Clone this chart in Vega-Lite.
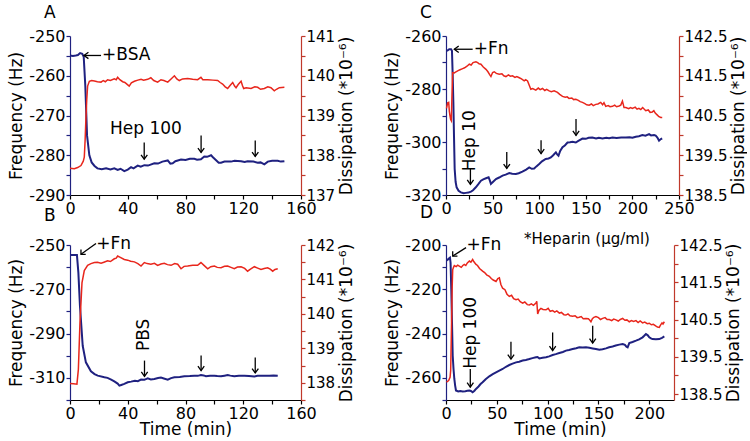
{
"$schema": "https://vega.github.io/schema/vega-lite/v6.json",
"padding": {"left": 7, "top": 4, "right": 0, "bottom": 0},
"columns": 2,
"spacing": {"row": 50, "column": 145},
"bounds": "flush",
"datasets": {
"Af": [{"t":0,"v":-254.9},{"t":2,"v":-255},{"t":4,"v":-254.9},{"t":5.5,"v":-254.8},{"t":7,"v":-254.3},{"t":8.5,"v":-254.5},{"t":9.5,"v":-255.2},{"t":10.6,"v":-262.5},{"t":11.8,"v":-275},{"t":13.4,"v":-280},{"t":15,"v":-281.8},{"t":17,"v":-282.7},{"t":19,"v":-283.3},{"t":22,"v":-283.5},{"t":25,"v":-283.3},{"t":28,"v":-283.6},{"t":30.7,"v":-283.3},{"t":33,"v":-283.7},{"t":35,"v":-283.4},{"t":37.6,"v":-284},{"t":40,"v":-283.6},{"t":42.3,"v":-283},{"t":44,"v":-283.3},{"t":46.9,"v":-282.6},{"t":49,"v":-282.9},{"t":51.5,"v":-282.5},{"t":54,"v":-282.6},{"t":58.4,"v":-282},{"t":61,"v":-282.1},{"t":64,"v":-281.6},{"t":67.7,"v":-281.3},{"t":69.5,"v":-282.1},{"t":71.1,"v":-282},{"t":73,"v":-281.5},{"t":76.9,"v":-281.1},{"t":80,"v":-281.2},{"t":83,"v":-280.9},{"t":86.1,"v":-280.9},{"t":88,"v":-281.1},{"t":90.7,"v":-281},{"t":93,"v":-280.3},{"t":95,"v":-280.4},{"t":97.7,"v":-280},{"t":99,"v":-280.5},{"t":101,"v":-281.2},{"t":103,"v":-281.9},{"t":104.6,"v":-281.9},{"t":107,"v":-281.6},{"t":111.5,"v":-281.6},{"t":114,"v":-281.4},{"t":118.5,"v":-281.5},{"t":121,"v":-281.7},{"t":123,"v":-281.5},{"t":127,"v":-281.6},{"t":130,"v":-281.9},{"t":132,"v":-281.8},{"t":134.6,"v":-282.3},{"t":137,"v":-281.6},{"t":140,"v":-281.4},{"t":143.9,"v":-281.4},{"t":146,"v":-281.6},{"t":148.5,"v":-281.5}],
"Ad": [{"t":0,"v":137.67},{"t":3,"v":137.66},{"t":5.3,"v":137.69},{"t":7.6,"v":137.74},{"t":9.2,"v":137.85},{"t":9.9,"v":137.95},{"t":10.5,"v":138.4},{"t":11,"v":138.9},{"t":11.6,"v":139.4},{"t":12.2,"v":139.74},{"t":13.4,"v":139.86},{"t":15,"v":139.88},{"t":16.9,"v":139.87},{"t":19,"v":139.85},{"t":21.5,"v":139.84},{"t":23,"v":139.88},{"t":24.5,"v":139.85},{"t":26,"v":139.9},{"t":28,"v":139.88},{"t":30.7,"v":139.92},{"t":32,"v":139.9},{"t":33,"v":139.96},{"t":34.5,"v":139.9},{"t":36.5,"v":139.85},{"t":38,"v":139.83},{"t":40,"v":139.77},{"t":41,"v":139.74},{"t":42.5,"v":139.82},{"t":44.6,"v":139.86},{"t":47,"v":139.89},{"t":49.2,"v":139.91},{"t":51,"v":139.89},{"t":53.8,"v":139.91},{"t":56,"v":139.95},{"t":58,"v":139.88},{"t":60.7,"v":139.84},{"t":63,"v":139.9},{"t":65,"v":139.88},{"t":67.7,"v":139.84},{"t":70,"v":139.92},{"t":72.3,"v":140.0},{"t":74,"v":139.92},{"t":75.7,"v":139.88},{"t":78,"v":139.92},{"t":81.5,"v":139.93},{"t":85,"v":139.91},{"t":88.4,"v":139.9},{"t":90.7,"v":139.96},{"t":92,"v":139.9},{"t":95.4,"v":139.9},{"t":99,"v":139.89},{"t":102.3,"v":139.88},{"t":104,"v":139.83},{"t":105.7,"v":139.79},{"t":107.5,"v":139.72},{"t":109.2,"v":139.68},{"t":111,"v":139.76},{"t":112.7,"v":139.83},{"t":114,"v":139.74},{"t":115,"v":139.7},{"t":116.5,"v":139.78},{"t":118.5,"v":139.86},{"t":119.5,"v":139.75},{"t":120.3,"v":139.68},{"t":122,"v":139.7},{"t":125.4,"v":139.68},{"t":128,"v":139.72},{"t":130,"v":139.71},{"t":132,"v":139.66},{"t":134.6,"v":139.68},{"t":137,"v":139.72},{"t":139.2,"v":139.7},{"t":141.5,"v":139.62},{"t":143,"v":139.66},{"t":145,"v":139.7},{"t":148.5,"v":139.71}],
"Bf": [{"t":0,"v":-254.5},{"t":2.5,"v":-254.5},{"t":4.8,"v":-254.5},{"t":5.8,"v":-262.5},{"t":6.9,"v":-277.5},{"t":8.8,"v":-295.5},{"t":11,"v":-303},{"t":14.5,"v":-307},{"t":17,"v":-308.3},{"t":19.2,"v":-309},{"t":23.8,"v":-309.7},{"t":26,"v":-310},{"t":28.5,"v":-310.8},{"t":30.7,"v":-311.6},{"t":33,"v":-312.6},{"t":34.2,"v":-313.5},{"t":35.5,"v":-313.2},{"t":37.6,"v":-312.7},{"t":40,"v":-312},{"t":42.3,"v":-311.7},{"t":45,"v":-311.3},{"t":47,"v":-311.5},{"t":49.2,"v":-310.8},{"t":51.5,"v":-310.9},{"t":53.8,"v":-310.2},{"t":56,"v":-310.7},{"t":58.4,"v":-310.5},{"t":61,"v":-310.1},{"t":63,"v":-309.9},{"t":65,"v":-310.3},{"t":67.7,"v":-310.8},{"t":70,"v":-310.1},{"t":72.3,"v":-309.7},{"t":76,"v":-309.6},{"t":79.2,"v":-309.3},{"t":83,"v":-309.2},{"t":86.1,"v":-309},{"t":88.5,"v":-309.1},{"t":90.7,"v":-308.7},{"t":92.5,"v":-308.9},{"t":94.2,"v":-309.3},{"t":97,"v":-309.1},{"t":100,"v":-309},{"t":102,"v":-309.2},{"t":104.6,"v":-309.3},{"t":107,"v":-309},{"t":109.2,"v":-308.7},{"t":111,"v":-309},{"t":113.8,"v":-309.3},{"t":117,"v":-309.1},{"t":120.8,"v":-309},{"t":124,"v":-309.2},{"t":127.7,"v":-309.4},{"t":130,"v":-309.1},{"t":134.6,"v":-309},{"t":138,"v":-309.1},{"t":141,"v":-308.9},{"t":143.9,"v":-309}],
"Bd": [{"t":0,"v":137.98},{"t":2.5,"v":137.97},{"t":4.8,"v":137.96},{"t":5.8,"v":138.39},{"t":6.9,"v":139.74},{"t":8.3,"v":140.9},{"t":9.9,"v":141.26},{"t":12.2,"v":141.41},{"t":14.5,"v":141.46},{"t":16.9,"v":141.49},{"t":19,"v":141.5},{"t":21.5,"v":141.47},{"t":23.5,"v":141.5},{"t":26,"v":141.54},{"t":28,"v":141.52},{"t":30.7,"v":141.6},{"t":32,"v":141.62},{"t":33,"v":141.68},{"t":34.5,"v":141.65},{"t":37.6,"v":141.58},{"t":40,"v":141.56},{"t":42,"v":141.53},{"t":44.6,"v":141.51},{"t":47,"v":141.46},{"t":49.2,"v":141.39},{"t":51.5,"v":141.49},{"t":53.5,"v":141.46},{"t":56,"v":141.44},{"t":58.5,"v":141.47},{"t":60.7,"v":141.41},{"t":63,"v":141.45},{"t":65.3,"v":141.47},{"t":67.5,"v":141.43},{"t":70,"v":141.41},{"t":72.5,"v":141.46},{"t":74.6,"v":141.44},{"t":76.9,"v":141.31},{"t":79,"v":141.38},{"t":81.5,"v":141.39},{"t":85,"v":141.41},{"t":88.4,"v":141.41},{"t":90.7,"v":141.49},{"t":93,"v":141.4},{"t":95.4,"v":141.31},{"t":97.5,"v":141.37},{"t":100,"v":141.39},{"t":102,"v":141.35},{"t":104.6,"v":141.34},{"t":107,"v":141.38},{"t":109.2,"v":141.39},{"t":111.5,"v":141.35},{"t":113.8,"v":141.31},{"t":116,"v":141.36},{"t":118.5,"v":141.37},{"t":121,"v":141.32},{"t":123,"v":141.24},{"t":125,"v":141.3},{"t":127.7,"v":141.37},{"t":130,"v":141.33},{"t":132.3,"v":141.29},{"t":134.5,"v":141.32},{"t":136.9,"v":141.34},{"t":138.7,"v":141.3},{"t":140.4,"v":141.24},{"t":142,"v":141.29},{"t":143.9,"v":141.31}],
"Cf": [{"t":0.5,"v":-265.6},{"t":1.8,"v":-265.4},{"t":3.5,"v":-265},{"t":5.4,"v":-265},{"t":6.4,"v":-265.6},{"t":7.2,"v":-275},{"t":7.9,"v":-285},{"t":8.6,"v":-298},{"t":9.3,"v":-310.2},{"t":10.3,"v":-315},{"t":11.4,"v":-317.1},{"t":13.5,"v":-318.4},{"t":16,"v":-319},{"t":19,"v":-319.3},{"t":21.4,"v":-319.2},{"t":24,"v":-319.1},{"t":26.8,"v":-318.7},{"t":29,"v":-318.2},{"t":32,"v":-317.1},{"t":34.5,"v":-316},{"t":37.5,"v":-314.6},{"t":40,"v":-314.1},{"t":42.9,"v":-313.7},{"t":45.7,"v":-313.3},{"t":47,"v":-314.5},{"t":48.2,"v":-315.8},{"t":50,"v":-315.2},{"t":53.6,"v":-314},{"t":57,"v":-313.4},{"t":60.7,"v":-312.7},{"t":64,"v":-312.3},{"t":67.9,"v":-311.7},{"t":71,"v":-312},{"t":75,"v":-312.1},{"t":78,"v":-311.8},{"t":82,"v":-311.2},{"t":86,"v":-310.4},{"t":89.3,"v":-309.6},{"t":92,"v":-310.1},{"t":94.6,"v":-310},{"t":97,"v":-309.2},{"t":100,"v":-308.3},{"t":103,"v":-307.3},{"t":107,"v":-306.4},{"t":110,"v":-306.2},{"t":112.5,"v":-305.8},{"t":115,"v":-305},{"t":117.9,"v":-303.9},{"t":119.5,"v":-304.8},{"t":120.7,"v":-305.2},{"t":122.5,"v":-303.4},{"t":125,"v":-302},{"t":127.5,"v":-301.3},{"t":130.4,"v":-300.2},{"t":133,"v":-300.1},{"t":135.7,"v":-299.9},{"t":139.3,"v":-300.2},{"t":142,"v":-299.6},{"t":146.4,"v":-298.7},{"t":150,"v":-298.8},{"t":153,"v":-298.4},{"t":157,"v":-298.3},{"t":161,"v":-298.7},{"t":164,"v":-298.4},{"t":167.9,"v":-298.7},{"t":172,"v":-298.4},{"t":175,"v":-298.6},{"t":178.6,"v":-298.3},{"t":183,"v":-298.5},{"t":188,"v":-298.3},{"t":192.9,"v":-298.3},{"t":197,"v":-298.2},{"t":200,"v":-298.4},{"t":203.6,"v":-298},{"t":207,"v":-297.8},{"t":210.7,"v":-297.4},{"t":214,"v":-297.6},{"t":217.9,"v":-297},{"t":220,"v":-297.5},{"t":223.2,"v":-297.4},{"t":225,"v":-297.6},{"t":226.8,"v":-298.3},{"t":228.6,"v":-299.5},{"t":230.5,"v":-298.9},{"t":232,"v":-298.7}],
"Cd": [{"t":0.5,"v":140.68},{"t":1.8,"v":140.82},{"t":2.9,"v":140.83},{"t":3.6,"v":140.6},{"t":4.3,"v":140.49},{"t":5,"v":140.4},{"t":5.7,"v":140.37},{"t":6.4,"v":141},{"t":7.1,"v":141.58},{"t":9,"v":141.57},{"t":10.7,"v":141.6},{"t":13,"v":141.63},{"t":15,"v":141.65},{"t":17.9,"v":141.68},{"t":20,"v":141.7},{"t":22.5,"v":141.74},{"t":25,"v":141.79},{"t":27,"v":141.77},{"t":29,"v":141.83},{"t":32.1,"v":141.85},{"t":34,"v":141.83},{"t":35.5,"v":141.8},{"t":37.5,"v":141.79},{"t":40,"v":141.72},{"t":42.9,"v":141.66},{"t":45,"v":141.6},{"t":47,"v":141.52},{"t":48.2,"v":141.48},{"t":50,"v":141.58},{"t":51.8,"v":141.6},{"t":54,"v":141.56},{"t":57.1,"v":141.54},{"t":60,"v":141.55},{"t":62,"v":141.5},{"t":64.3,"v":141.48},{"t":67,"v":141.52},{"t":69,"v":141.49},{"t":71.4,"v":141.5},{"t":74,"v":141.46},{"t":76,"v":141.48},{"t":78.6,"v":141.45},{"t":81,"v":141.42},{"t":83.9,"v":141.37},{"t":85.5,"v":141.4},{"t":87.5,"v":141.37},{"t":89,"v":141.28},{"t":91,"v":141.16},{"t":93,"v":141.18},{"t":96.4,"v":141.14},{"t":99,"v":141.19},{"t":101,"v":141.15},{"t":103.6,"v":141.18},{"t":106,"v":141.13},{"t":108,"v":141.16},{"t":110.7,"v":141.12},{"t":113,"v":141.1},{"t":116,"v":141.12},{"t":119.6,"v":141.08},{"t":122,"v":141.03},{"t":125,"v":140.98},{"t":128,"v":140.96},{"t":130,"v":140.97},{"t":132,"v":140.93},{"t":135,"v":140.94},{"t":137,"v":140.9},{"t":139.3,"v":140.91},{"t":142,"v":140.88},{"t":144,"v":140.85},{"t":146.4,"v":140.83},{"t":149,"v":140.8},{"t":151,"v":140.77},{"t":153.6,"v":140.76},{"t":156,"v":140.79},{"t":158,"v":140.75},{"t":160.7,"v":140.78},{"t":163,"v":140.79},{"t":166,"v":140.83},{"t":168,"v":140.77},{"t":169.5,"v":140.82},{"t":171.4,"v":140.73},{"t":174,"v":140.75},{"t":176,"v":140.72},{"t":178.6,"v":140.73},{"t":181,"v":140.76},{"t":183,"v":140.72},{"t":185.7,"v":140.74},{"t":187.5,"v":140.76},{"t":189.3,"v":140.86},{"t":190.2,"v":140.78},{"t":191,"v":140.7},{"t":193,"v":140.7},{"t":196,"v":140.67},{"t":198,"v":140.7},{"t":200,"v":140.68},{"t":203,"v":140.71},{"t":205,"v":140.66},{"t":207,"v":140.68},{"t":209,"v":140.65},{"t":211,"v":140.7},{"t":214.3,"v":140.62},{"t":217,"v":140.64},{"t":219,"v":140.58},{"t":221.4,"v":140.59},{"t":223,"v":140.62},{"t":224.5,"v":140.56},{"t":226.8,"v":140.51},{"t":228.5,"v":140.47},{"t":230.4,"v":140.45},{"t":232,"v":140.45}],
"Df": [{"t":0.5,"v":-207},{"t":2,"v":-206.5},{"t":2.6,"v":-206.2},{"t":3.9,"v":-205.7},{"t":4.5,"v":-208},{"t":5.2,"v":-220},{"t":5.9,"v":-235},{"t":6.6,"v":-250},{"t":7.4,"v":-256},{"t":8.2,"v":-260.5},{"t":9,"v":-263.5},{"t":9.8,"v":-265.7},{"t":12,"v":-266.1},{"t":14,"v":-265.9},{"t":16.4,"v":-266.2},{"t":19,"v":-266},{"t":21,"v":-265.8},{"t":23,"v":-265.7},{"t":24.5,"v":-265.9},{"t":26.2,"v":-266.5},{"t":28,"v":-265.8},{"t":29.5,"v":-265},{"t":32,"v":-263.9},{"t":34,"v":-262.8},{"t":36,"v":-262},{"t":39,"v":-260.6},{"t":42.6,"v":-259.3},{"t":46,"v":-258.3},{"t":49.2,"v":-257.5},{"t":52,"v":-256.8},{"t":55.7,"v":-256},{"t":59,"v":-255},{"t":62.3,"v":-254.2},{"t":65.5,"v":-253.6},{"t":68.9,"v":-253},{"t":72,"v":-252.7},{"t":75.4,"v":-252.2},{"t":78.5,"v":-251.9},{"t":82,"v":-251.5},{"t":85,"v":-251.1},{"t":88.5,"v":-250.7},{"t":90,"v":-250.6},{"t":91.8,"v":-251.2},{"t":95,"v":-250.9},{"t":98.4,"v":-250.7},{"t":101.5,"v":-250.3},{"t":104.9,"v":-249.7},{"t":108,"v":-249.3},{"t":111.5,"v":-248.8},{"t":115,"v":-248.3},{"t":118,"v":-247.7},{"t":121,"v":-247.4},{"t":124.6,"v":-247},{"t":128,"v":-246.6},{"t":131.1,"v":-246.2},{"t":134.5,"v":-246.3},{"t":137.7,"v":-246.2},{"t":141,"v":-246.4},{"t":144.3,"v":-246.7},{"t":147.5,"v":-247},{"t":150.8,"v":-247.3},{"t":154,"v":-247.1},{"t":157.4,"v":-246.7},{"t":160.5,"v":-246.2},{"t":163.9,"v":-245.8},{"t":167,"v":-245.4},{"t":170.5,"v":-245},{"t":173.8,"v":-244.7},{"t":176,"v":-245.1},{"t":177.5,"v":-245.9},{"t":178.7,"v":-246.2},{"t":180.3,"v":-244.3},{"t":183.5,"v":-243.8},{"t":186.9,"v":-243.2},{"t":190,"v":-242.6},{"t":193.4,"v":-241.7},{"t":195,"v":-241},{"t":196.7,"v":-240.2},{"t":198.5,"v":-240.8},{"t":200,"v":-241.7},{"t":202,"v":-242.3},{"t":203.3,"v":-242.5},{"t":206.5,"v":-242.6},{"t":209.8,"v":-242.5},{"t":212.5,"v":-241.9},{"t":214.8,"v":-241.3}],
"Dd": [{"t":0.5,"v":138.82},{"t":2.6,"v":138.86},{"t":4,"v":138.95},{"t":4.6,"v":139.13},{"t":5.4,"v":140.3},{"t":6.1,"v":141.4},{"t":6.6,"v":141.84},{"t":7.4,"v":141.9},{"t":8.2,"v":141.95},{"t":10,"v":141.92},{"t":11.5,"v":141.96},{"t":13.1,"v":141.93},{"t":15,"v":141.9},{"t":16.5,"v":141.95},{"t":18,"v":141.98},{"t":19.5,"v":141.95},{"t":21,"v":142.02},{"t":23,"v":142.07},{"t":24.5,"v":142.04},{"t":26.2,"v":142.11},{"t":27.5,"v":142.05},{"t":29.5,"v":141.98},{"t":31,"v":141.95},{"t":33,"v":141.87},{"t":36,"v":141.8},{"t":38,"v":141.76},{"t":40,"v":141.7},{"t":42.6,"v":141.66},{"t":44.5,"v":141.6},{"t":46.5,"v":141.56},{"t":49.2,"v":141.52},{"t":51,"v":141.6},{"t":52.5,"v":141.62},{"t":54,"v":141.44},{"t":55.7,"v":141.34},{"t":58,"v":141.3},{"t":60,"v":141.18},{"t":62.3,"v":141.12},{"t":64.5,"v":141.15},{"t":66.5,"v":141.06},{"t":68.9,"v":141.03},{"t":71,"v":141.05},{"t":73,"v":140.98},{"t":75.4,"v":140.94},{"t":77.5,"v":140.97},{"t":80,"v":140.9},{"t":82,"v":140.89},{"t":84,"v":140.92},{"t":86,"v":140.88},{"t":88.5,"v":140.94},{"t":89.3,"v":140.99},{"t":90.2,"v":140.65},{"t":91.5,"v":140.75},{"t":93.4,"v":140.8},{"t":95.5,"v":140.77},{"t":98.4,"v":140.76},{"t":100.5,"v":140.8},{"t":102.5,"v":140.72},{"t":104.9,"v":140.74},{"t":107,"v":140.7},{"t":109,"v":140.73},{"t":111.5,"v":140.67},{"t":113.5,"v":140.69},{"t":116,"v":140.63},{"t":118,"v":140.62},{"t":120,"v":140.65},{"t":122,"v":140.6},{"t":124.6,"v":140.59},{"t":127,"v":140.6},{"t":129,"v":140.55},{"t":131.1,"v":140.56},{"t":133,"v":140.58},{"t":135,"v":140.52},{"t":137.7,"v":140.53},{"t":140,"v":140.52},{"t":141.5,"v":140.48},{"t":142.6,"v":140.44},{"t":144,"v":140.52},{"t":145.5,"v":140.56},{"t":147.5,"v":140.58},{"t":150,"v":140.55},{"t":152,"v":140.5},{"t":154.1,"v":140.53},{"t":156.5,"v":140.55},{"t":158.5,"v":140.5},{"t":160.7,"v":140.5},{"t":163,"v":140.47},{"t":165,"v":140.51},{"t":167.2,"v":140.49},{"t":169.5,"v":140.46},{"t":171.5,"v":140.5},{"t":173.8,"v":140.53},{"t":176,"v":140.48},{"t":178,"v":140.49},{"t":180.3,"v":140.44},{"t":182.5,"v":140.47},{"t":184.5,"v":140.45},{"t":186.9,"v":140.47},{"t":189,"v":140.42},{"t":191,"v":140.46},{"t":193.4,"v":140.41},{"t":195.5,"v":140.43},{"t":198,"v":140.39},{"t":200,"v":140.4},{"t":202,"v":140.36},{"t":204,"v":140.37},{"t":206.6,"v":140.32},{"t":208,"v":140.3},{"t":209.8,"v":140.29},{"t":211,"v":140.35},{"t":212.5,"v":140.41},{"t":213.5,"v":140.38},{"t":214.8,"v":140.44}],
"Aarr": [{"t":21.5,"v":-254.9,"t2":9.7,"v2":-254.9,"dir":"left"},{"t":51.4,"v":-276.8,"t2":51.4,"v2":-281,"dir":"down"},{"t":90.8,"v":-275,"t2":90.8,"v2":-279.3,"dir":"down"},{"t":128.3,"v":-276.3,"t2":128.3,"v2":-280.3,"dir":"down"}],
"Atxt": [{"t":21.5,"v":-254.9,"label":"+BSA"},{"t":27,"v":-273.5,"label":"Hep 100"}],
"Barr": [{"t":18,"v":-249.3,"t2":7.6,"v2":-254.2,"dir":"diag"},{"t":51.6,"v":-302.2,"t2":51.6,"v2":-309.3,"dir":"down"},{"t":90.8,"v":-299.9,"t2":90.8,"v2":-306.7,"dir":"down"},{"t":128.3,"v":-300.8,"t2":128.3,"v2":-307.8,"dir":"down"}],
"Btxt": [{"t":17.5,"v":-249.5,"label":"+Fn"}],
"Brot": [{"t":51.6,"v":-290.6,"label":"PBS"}],
"Carr": [{"t":28.6,"v":-265,"t2":8.9,"v2":-265,"dir":"left"},{"t":26.2,"v":-310,"t2":26.2,"v2":-316,"dir":"down"},{"t":65.2,"v":-303.8,"t2":65.2,"v2":-310,"dir":"down"},{"t":102,"v":-299.3,"t2":102,"v2":-304.4,"dir":"down"},{"t":139.5,"v":-291.3,"t2":139.5,"v2":-297.5,"dir":"down"}],
"Ctxt": [{"t":28.6,"v":-265,"label":"+Fn"}],
"Crot": [{"t":26.2,"v":-299.5,"label":"Hep 10"}],
"Darr": [{"t":19.7,"v":-201.2,"t2":6.6,"v2":-205,"dir":"diag"},{"t":23.9,"v":-256,"t2":23.9,"v2":-264.2,"dir":"down"},{"t":63.9,"v":-243.7,"t2":63.9,"v2":-251.5,"dir":"down"},{"t":104.9,"v":-239.5,"t2":104.9,"v2":-247.7,"dir":"down"},{"t":144.3,"v":-236.5,"t2":144.3,"v2":-244.3,"dir":"down"}],
"Dtxt": [{"t":19.2,"v":-200.1,"label":"+Fn"}],
"Drot": [{"t":24.6,"v":-239.7,"label":"Hep 100"}],
"Dnote": [{"t":138.7,"v":-197.2,"label":"*Heparin (μg/ml)"}]
},
"concat": [
{
"width": 231, "height": 159,
"title": {"text": "A", "frame": "group", "dx": -26, "offset": 6},
"resolve": {"scale": {"x": "independent", "y": "independent"}},
"layer": [
{"data": {"name": "Af"}, "mark": {"type": "line", "color": "#1f2180", "strokeWidth": 2},
"encoding": {
"x": {"field": "t", "type": "quantitative", "scale": {"domain": [0, 160], "nice": false, "zero": false}, "axis": {"title": null, "values": [0,20,40,60,80,100,120,140,160], "labelExpr": "datum.value % 40 === 0 ? '' + datum.value : ''"}},
"y": {"field": "v", "type": "quantitative", "scale": {"domain": [-290, -250], "nice": false, "zero": false}, "axis": {"title": "Frequency (Hz)", "values": [-290,-285,-280,-275,-270,-265,-260,-255,-250], "labelExpr": "datum.value % 10 === 0 ? '' + datum.value : ''"}}}},
{"data": {"name": "Aarr"}, "mark": {"type": "rule", "color": "black", "strokeWidth": 1.3}, "encoding": {"x": {"field": "t", "type": "quantitative", "scale": {"domain": [0, 160], "nice": false, "zero": false}, "axis": null}, "x2": {"field": "t2"}, "y": {"field": "v", "type": "quantitative", "scale": {"domain": [-290, -250], "nice": false, "zero": false}, "axis": null}, "y2": {"field": "v2"}}},
{"data": {"name": "Aarr"}, "transform": [{"filter": "datum.dir === 'down'"}], "mark": {"type": "point", "shape": "M -1 -1.4 L 0 0 L 1 -1.4", "filled": false, "color": "black", "opacity": 1, "strokeWidth": 1.3, "size": 40}, "encoding": {"x": {"field": "t2", "type": "quantitative", "scale": {"domain": [0, 160], "nice": false, "zero": false}, "axis": null}, "y": {"field": "v2", "type": "quantitative", "scale": {"domain": [-290, -250], "nice": false, "zero": false}, "axis": null}}},
{"data": {"name": "Aarr"}, "transform": [{"filter": "datum.dir === 'left'"}], "mark": {"type": "point", "shape": "M 1.4 -1 L 0 0 L 1.4 1", "filled": false, "color": "black", "opacity": 1, "strokeWidth": 1.3, "size": 40}, "encoding": {"x": {"field": "t2", "type": "quantitative", "scale": {"domain": [0, 160], "nice": false, "zero": false}, "axis": null}, "y": {"field": "v2", "type": "quantitative", "scale": {"domain": [-290, -250], "nice": false, "zero": false}, "axis": null}}},
{"data": {"name": "Atxt"}, "mark": {"type": "text", "align": "left", "baseline": "middle", "dx": 1}, "encoding": {"x": {"field": "t", "type": "quantitative", "scale": {"domain": [0, 160], "nice": false, "zero": false}, "axis": null}, "y": {"field": "v", "type": "quantitative", "scale": {"domain": [-290, -250], "nice": false, "zero": false}, "axis": null}, "text": {"field": "label"}}},
{"data": {"name": "Ad"}, "mark": {"type": "line", "color": "#e8261c", "strokeWidth": 1.5},
"encoding": {"x": {"field": "t", "type": "quantitative", "scale": {"domain": [0, 160], "nice": false, "zero": false}, "axis": null},
"y": {"field": "v", "type": "quantitative", "scale": {"domain": [137, 141], "nice": false, "zero": false}, "axis": {"orient": "right", "title": "Dissipation (*10⁻⁶)", "values": [137,137.5,138,138.5,139,139.5,140,140.5,141], "labelExpr": "datum.value % 1 === 0 ? '' + datum.value : ''"}}}}
]
},
{
"width": 233, "height": 159,
"title": {"text": "C", "frame": "group", "dx": -26, "offset": 6},
"resolve": {"scale": {"x": "independent", "y": "independent"}},
"layer": [
{"data": {"name": "Cf"}, "mark": {"type": "line", "color": "#1f2180", "strokeWidth": 2},
"encoding": {
"x": {"field": "t", "type": "quantitative", "scale": {"domain": [0, 250], "nice": false, "zero": false}, "axis": {"title": null, "values": [0,25,50,75,100,125,150,175,200,225,250], "labelExpr": "datum.value % 50 === 0 ? '' + datum.value : ''"}},
"y": {"field": "v", "type": "quantitative", "scale": {"domain": [-320, -260], "nice": false, "zero": false}, "axis": {"title": "Frequency (Hz)", "values": [-320,-310,-300,-290,-280,-270,-260], "labelExpr": "(datum.value + 260) % 20 === 0 ? '' + datum.value : ''"}}}},
{"data": {"name": "Carr"}, "mark": {"type": "rule", "color": "black", "strokeWidth": 1.3}, "encoding": {"x": {"field": "t", "type": "quantitative", "scale": {"domain": [0, 250], "nice": false, "zero": false}, "axis": null}, "x2": {"field": "t2"}, "y": {"field": "v", "type": "quantitative", "scale": {"domain": [-320, -260], "nice": false, "zero": false}, "axis": null}, "y2": {"field": "v2"}}},
{"data": {"name": "Carr"}, "transform": [{"filter": "datum.dir === 'down'"}], "mark": {"type": "point", "shape": "M -1 -1.4 L 0 0 L 1 -1.4", "filled": false, "color": "black", "opacity": 1, "strokeWidth": 1.3, "size": 40}, "encoding": {"x": {"field": "t2", "type": "quantitative", "scale": {"domain": [0, 250], "nice": false, "zero": false}, "axis": null}, "y": {"field": "v2", "type": "quantitative", "scale": {"domain": [-320, -260], "nice": false, "zero": false}, "axis": null}}},
{"data": {"name": "Carr"}, "transform": [{"filter": "datum.dir === 'left'"}], "mark": {"type": "point", "shape": "M 1.4 -1 L 0 0 L 1.4 1", "filled": false, "color": "black", "opacity": 1, "strokeWidth": 1.3, "size": 40}, "encoding": {"x": {"field": "t2", "type": "quantitative", "scale": {"domain": [0, 250], "nice": false, "zero": false}, "axis": null}, "y": {"field": "v2", "type": "quantitative", "scale": {"domain": [-320, -260], "nice": false, "zero": false}, "axis": null}}},
{"data": {"name": "Ctxt"}, "mark": {"type": "text", "align": "left", "baseline": "middle", "dx": 1}, "encoding": {"x": {"field": "t", "type": "quantitative", "scale": {"domain": [0, 250], "nice": false, "zero": false}, "axis": null}, "y": {"field": "v", "type": "quantitative", "scale": {"domain": [-320, -260], "nice": false, "zero": false}, "axis": null}, "text": {"field": "label"}}},
{"data": {"name": "Crot"}, "mark": {"type": "text", "align": "center", "baseline": "middle", "angle": 270}, "encoding": {"x": {"field": "t", "type": "quantitative", "scale": {"domain": [0, 250], "nice": false, "zero": false}, "axis": null}, "y": {"field": "v", "type": "quantitative", "scale": {"domain": [-320, -260], "nice": false, "zero": false}, "axis": null}, "text": {"field": "label"}}},
{"data": {"name": "Cd"}, "mark": {"type": "line", "color": "#e8261c", "strokeWidth": 1.5},
"encoding": {"x": {"field": "t", "type": "quantitative", "scale": {"domain": [0, 250], "nice": false, "zero": false}, "axis": null},
"y": {"field": "v", "type": "quantitative", "scale": {"domain": [138.5, 142.5], "nice": false, "zero": false}, "axis": {"orient": "right", "title": "Dissipation (*10⁻⁶)", "values": [138.5,139,139.5,140,140.5,141,141.5,142,142.5], "labelExpr": "datum.value % 1 !== 0 ? '' + datum.value : ''"}}}}
]
},
{
"width": 231, "height": 155,
"title": {"text": "B", "frame": "group", "dx": -26, "offset": 10},
"resolve": {"scale": {"x": "independent", "y": "independent"}},
"layer": [
{"data": {"name": "Bf"}, "mark": {"type": "line", "color": "#1f2180", "strokeWidth": 2},
"encoding": {
"x": {"field": "t", "type": "quantitative", "scale": {"domain": [0, 160], "nice": false, "zero": false}, "axis": {"title": "Time (min)", "values": [0,20,40,60,80,100,120,140,160], "labelExpr": "datum.value % 40 === 0 ? '' + datum.value : ''"}},
"y": {"field": "v", "type": "quantitative", "scale": {"domain": [-320, -250], "nice": false, "zero": false}, "axis": {"title": "Frequency (Hz)", "values": [-320,-310,-300,-290,-280,-270,-260,-250], "labelExpr": "(datum.value + 250) % 20 === 0 ? '' + datum.value : ''"}}}},
{"data": {"name": "Barr"}, "mark": {"type": "rule", "color": "black", "strokeWidth": 1.3}, "encoding": {"x": {"field": "t", "type": "quantitative", "scale": {"domain": [0, 160], "nice": false, "zero": false}, "axis": null}, "x2": {"field": "t2"}, "y": {"field": "v", "type": "quantitative", "scale": {"domain": [-320, -250], "nice": false, "zero": false}, "axis": null}, "y2": {"field": "v2"}}},
{"data": {"name": "Barr"}, "transform": [{"filter": "datum.dir === 'down'"}], "mark": {"type": "point", "shape": "M -1 -1.4 L 0 0 L 1 -1.4", "filled": false, "color": "black", "opacity": 1, "strokeWidth": 1.3, "size": 40}, "encoding": {"x": {"field": "t2", "type": "quantitative", "scale": {"domain": [0, 160], "nice": false, "zero": false}, "axis": null}, "y": {"field": "v2", "type": "quantitative", "scale": {"domain": [-320, -250], "nice": false, "zero": false}, "axis": null}}},
{"data": {"name": "Barr"}, "transform": [{"filter": "datum.dir === 'diag'"}], "mark": {"type": "point", "shape": "M 0 -1.5 L 0 0 L 1.5 0", "filled": false, "color": "black", "opacity": 1, "strokeWidth": 1.3, "size": 40}, "encoding": {"x": {"field": "t2", "type": "quantitative", "scale": {"domain": [0, 160], "nice": false, "zero": false}, "axis": null}, "y": {"field": "v2", "type": "quantitative", "scale": {"domain": [-320, -250], "nice": false, "zero": false}, "axis": null}}},
{"data": {"name": "Btxt"}, "mark": {"type": "text", "align": "left", "baseline": "middle", "dx": 1}, "encoding": {"x": {"field": "t", "type": "quantitative", "scale": {"domain": [0, 160], "nice": false, "zero": false}, "axis": null}, "y": {"field": "v", "type": "quantitative", "scale": {"domain": [-320, -250], "nice": false, "zero": false}, "axis": null}, "text": {"field": "label"}}},
{"data": {"name": "Brot"}, "mark": {"type": "text", "align": "center", "baseline": "middle", "angle": 270}, "encoding": {"x": {"field": "t", "type": "quantitative", "scale": {"domain": [0, 160], "nice": false, "zero": false}, "axis": null}, "y": {"field": "v", "type": "quantitative", "scale": {"domain": [-320, -250], "nice": false, "zero": false}, "axis": null}, "text": {"field": "label"}}},
{"data": {"name": "Bd"}, "mark": {"type": "line", "color": "#e8261c", "strokeWidth": 1.5},
"encoding": {"x": {"field": "t", "type": "quantitative", "scale": {"domain": [0, 160], "nice": false, "zero": false}, "axis": null},
"y": {"field": "v", "type": "quantitative", "scale": {"domain": [137.5, 142], "nice": false, "zero": false}, "axis": {"orient": "right", "title": "Dissipation (*10⁻⁶)", "values": [137.5,138,138.5,139,139.5,140,140.5,141,141.5,142], "labelExpr": "datum.value % 1 === 0 ? '' + datum.value : ''"}}}}
]
},
{
"width": 228, "height": 155,
"title": {"text": "D", "frame": "group", "dx": -26, "offset": 10},
"resolve": {"scale": {"x": "independent", "y": "independent"}},
"layer": [
{"data": {"name": "Df"}, "mark": {"type": "line", "color": "#1f2180", "strokeWidth": 2},
"encoding": {
"x": {"field": "t", "type": "quantitative", "scale": {"domain": [0, 224.3], "nice": false, "zero": false}, "axis": {"title": "Time (min)", "values": [0,25,50,75,100,125,150,175,200], "labelExpr": "datum.value % 50 === 0 ? '' + datum.value : ''"}},
"y": {"field": "v", "type": "quantitative", "scale": {"domain": [-270, -200], "nice": false, "zero": false}, "axis": {"title": "Frequency (Hz)", "values": [-270,-260,-250,-240,-230,-220,-210,-200], "labelExpr": "(datum.value + 200) % 20 === 0 ? '' + datum.value : ''"}}}},
{"data": {"name": "Darr"}, "mark": {"type": "rule", "color": "black", "strokeWidth": 1.3}, "encoding": {"x": {"field": "t", "type": "quantitative", "scale": {"domain": [0, 224.3], "nice": false, "zero": false}, "axis": null}, "x2": {"field": "t2"}, "y": {"field": "v", "type": "quantitative", "scale": {"domain": [-270, -200], "nice": false, "zero": false}, "axis": null}, "y2": {"field": "v2"}}},
{"data": {"name": "Darr"}, "transform": [{"filter": "datum.dir === 'down'"}], "mark": {"type": "point", "shape": "M -1 -1.4 L 0 0 L 1 -1.4", "filled": false, "color": "black", "opacity": 1, "strokeWidth": 1.3, "size": 40}, "encoding": {"x": {"field": "t2", "type": "quantitative", "scale": {"domain": [0, 224.3], "nice": false, "zero": false}, "axis": null}, "y": {"field": "v2", "type": "quantitative", "scale": {"domain": [-270, -200], "nice": false, "zero": false}, "axis": null}}},
{"data": {"name": "Darr"}, "transform": [{"filter": "datum.dir === 'diag'"}], "mark": {"type": "point", "shape": "M 0 -1.5 L 0 0 L 1.5 0", "filled": false, "color": "black", "opacity": 1, "strokeWidth": 1.3, "size": 40}, "encoding": {"x": {"field": "t2", "type": "quantitative", "scale": {"domain": [0, 224.3], "nice": false, "zero": false}, "axis": null}, "y": {"field": "v2", "type": "quantitative", "scale": {"domain": [-270, -200], "nice": false, "zero": false}, "axis": null}}},
{"data": {"name": "Dtxt"}, "mark": {"type": "text", "align": "left", "baseline": "middle", "dx": 1}, "encoding": {"x": {"field": "t", "type": "quantitative", "scale": {"domain": [0, 224.3], "nice": false, "zero": false}, "axis": null}, "y": {"field": "v", "type": "quantitative", "scale": {"domain": [-270, -200], "nice": false, "zero": false}, "axis": null}, "text": {"field": "label"}}},
{"data": {"name": "Dnote"}, "mark": {"type": "text", "align": "center", "baseline": "middle", "fontSize": 15}, "encoding": {"x": {"field": "t", "type": "quantitative", "scale": {"domain": [0, 224.3], "nice": false, "zero": false}, "axis": null}, "y": {"field": "v", "type": "quantitative", "scale": {"domain": [-270, -200], "nice": false, "zero": false}, "axis": null}, "text": {"field": "label"}}},
{"data": {"name": "Drot"}, "mark": {"type": "text", "align": "center", "baseline": "middle", "angle": 270}, "encoding": {"x": {"field": "t", "type": "quantitative", "scale": {"domain": [0, 224.3], "nice": false, "zero": false}, "axis": null}, "y": {"field": "v", "type": "quantitative", "scale": {"domain": [-270, -200], "nice": false, "zero": false}, "axis": null}, "text": {"field": "label"}}},
{"data": {"name": "Dd"}, "mark": {"type": "line", "color": "#e8261c", "strokeWidth": 1.5},
"encoding": {"x": {"field": "t", "type": "quantitative", "scale": {"domain": [0, 224.3], "nice": false, "zero": false}, "axis": null},
"y": {"field": "v", "type": "quantitative", "scale": {"domain": [138.34, 142.5], "nice": false, "zero": false}, "axis": {"orient": "right", "title": "Dissipation (*10⁻⁶)", "values": [138.5,139,139.5,140,140.5,141,141.5,142,142.5], "labelExpr": "datum.value % 1 !== 0 ? '' + datum.value : ''"}}}}
]
}
],
"config": {
"font": "DejaVu Sans",
"view": {"stroke": null},
"axis": {"grid": false, "labelFont": "DejaVu Sans", "titleFont": "DejaVu Sans", "labelFontSize": 16, "labelColor": "black", "titleFontSize": 17, "titleFontWeight": "normal", "titleColor": "black", "domainColor": "black", "tickColor": "black", "tickSize": 4, "labelPadding": 1, "labelFlush": false, "labelOverlap": false, "domainWidth": 1.2, "tickWidth": 1.2},
"axisX": {"titlePadding": 0},
"axisLeft": {"titlePadding": 3, "domainColor": "#1f2180", "tickColor": "#1f2180"},
"axisRight": {"titlePadding": 4, "labelFontSize": 15, "titleAngle": 270, "titleBaseline": "top", "domainColor": "#c0392b", "tickColor": "#c0392b"},
"title": {"fontSize": 17, "fontWeight": "normal", "font": "DejaVu Sans", "anchor": "start", "color": "black"},
"text": {"font": "DejaVu Sans", "fontSize": 17, "color": "black"}
}
}
